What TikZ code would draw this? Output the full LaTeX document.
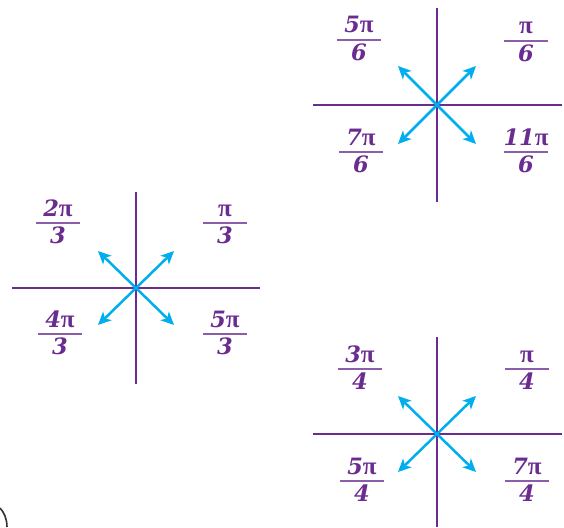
\documentclass[tikz,border=0pt]{standalone}
\usepackage{fontspec}
\newfontfamily\pifont{Liberation Serif}
\newfontfamily\digfont{DejaVu Serif}
\usetikzlibrary{arrows.meta}
\definecolor{axpurple}{HTML}{6B2C91}
\definecolor{barpurple}{HTML}{8C5DAA}
\definecolor{arrblue}{HTML}{00AEEF}
\definecolor{arcgray}{HTML}{333333}
\newcommand\pisym{{\pifont\bfseries\fontsize{25}{26}\selectfont π}}
\newcommand\dg[1]{{\digfont\bfseries\itshape #1}}
\tikzset{
  axisline/.style={draw=axpurple, line width=2.9pt},
  vecarrow/.style={draw=arrblue, line width=2.5pt, -{Stealth[length=13pt,width=12pt,inset=3.5pt]}},
  fracbar/.style={draw=barpurple, line width=1.2pt},
  fractext/.style={text=axpurple, font=\fontsize{22.5}{24}\selectfont, inner sep=0pt, anchor=base},
  pics/frac/.style n args={2}{code={
    \coordinate (-c) at (0,0);
    \coordinate (-l) at (-22,0);
    \coordinate (-r) at (22,0);
    \draw[fracbar] (-l) -- (-r);
    \node[fractext] (-n) at (0,-7) {#1};
    \node[fractext] (-d) at (0,20) {#2};
  }}
}
\begin{document}
\begin{tikzpicture}[x=1pt,y=-1pt]
\useasboundingbox (0,0) rectangle (564,527);

% ---------- top right (sixths) ----------
\coordinate (A) at (437,105);
\coordinate (At) at (437,8);
\coordinate (Ab) at (437,202);
\coordinate (Al) at (313,105);
\coordinate (Ar) at (562,105);
\draw[axisline] (At) -- (Ab);
\draw[axisline] (Al) -- (Ar);
\coordinate (A1) at (476,66);
\coordinate (A2) at (398,66);
\coordinate (A3) at (398,144);
\coordinate (A4) at (476,144);
\foreach \t in {A1,A2,A3,A4} \draw[vecarrow] (A) -- (\t);
\pic (a5) at (359,40) {frac={\dg{5}\pisym}{\dg{6}}};
\pic (a1) at (526,41) {frac={\pisym}{\dg{6}}};
\pic (a7) at (361,152) {frac={\dg{7}\pisym}{\dg{6}}};
\pic (a11) at (526,152) {frac={\dg{11}\pisym}{\dg{6}}};

% ---------- left (thirds) ----------
\coordinate (B) at (136,288);
\coordinate (Bt) at (136,192);
\coordinate (Bb) at (136,384);
\coordinate (Bl) at (12,288);
\coordinate (Br) at (260,288);
\draw[axisline] (Bt) -- (Bb);
\draw[axisline] (Bl) -- (Br);
\coordinate (B1) at (174,251);
\coordinate (B2) at (98,251);
\coordinate (B3) at (98,325);
\coordinate (B4) at (174,325);
\foreach \t in {B1,B2,B3,B4} \draw[vecarrow] (B) -- (\t);
\pic (b2) at (58,223) {frac={\dg{2}\pisym}{\dg{3}}};
\pic (b1) at (225,223) {frac={\pisym}{\dg{3}}};
\pic (b4) at (60,334) {frac={\dg{4}\pisym}{\dg{3}}};
\pic (b5) at (225,334) {frac={\dg{5}\pisym}{\dg{3}}};

% ---------- bottom right (quarters) ----------
\coordinate (C) at (437,434);
\coordinate (Ct) at (437,337);
\coordinate (Cb) at (437,527);
\coordinate (Cl) at (313,434);
\coordinate (Cr) at (562,434);
\draw[axisline] (Ct) -- (Cb);
\draw[axisline] (Cl) -- (Cr);
\coordinate (C1) at (476,396);
\coordinate (C2) at (398,396);
\coordinate (C3) at (398,472);
\coordinate (C4) at (476,472);
\foreach \t in {C1,C2,C3,C4} \draw[vecarrow] (C) -- (\t);
\pic (c3) at (360,369) {frac={\dg{3}\pisym}{\dg{4}}};
\pic (c1) at (527,369) {frac={\pisym}{\dg{4}}};
\pic (c5) at (362,481) {frac={\dg{5}\pisym}{\dg{4}}};
\pic (c7) at (527,481) {frac={\dg{7}\pisym}{\dg{4}}};

% ---------- partial arc at lower left ----------
\coordinate (arcS) at (0,508);
\coordinate (arcE) at (7,527);
\draw[arcgray, line width=1.6pt] (arcS) .. controls (4,512) and (7,519) .. (arcE);
\end{tikzpicture}
\end{document}
